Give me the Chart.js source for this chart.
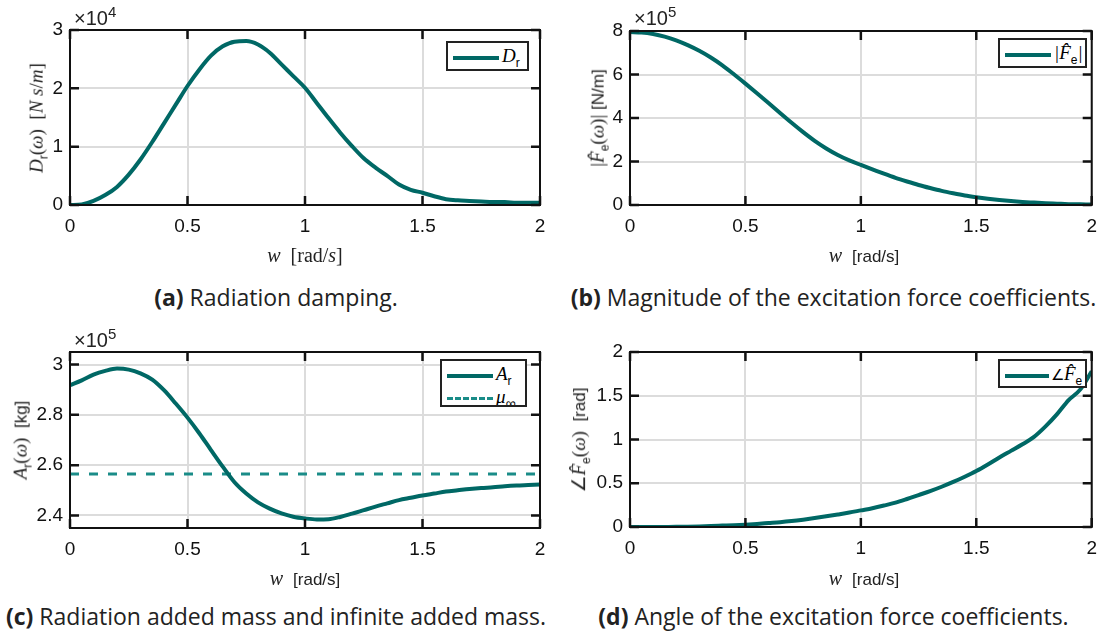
<!DOCTYPE html>
<html lang="en">
<head>
<meta charset="UTF-8">
<title>Hydrodynamic coefficients</title>
<script src="https://cdn.jsdelivr.net/npm/chart.js"></script>
<style>
    body { margin: 0; width: 1107px; height: 632px; background: #fff; position: relative; overflow: hidden; font-family: 'Liberation Sans', sans-serif; }
    .panel { position: absolute; }
    .txt { position: absolute; white-space: nowrap; color: #222; }
    .mult { font: 20px 'Liberation Sans', sans-serif; }
    .mult sup { font-size: 15px; vertical-align: 8px; }
    .ytitle { font: 19px 'Liberation Serif', serif; transform: translate(-50%, -50%) rotate(-90deg); }
    .xtitle { font: 20px 'Liberation Serif', serif; transform: translate(-50%, -50%); }
    .sans { font-family: 'Liberation Sans', sans-serif; font-size: 17px; }
    sub { font-size: 12px; font-family: 'Liberation Sans', sans-serif; font-style: normal; }
    .legend { position: absolute; border: 2px solid #222; background: #fff; font: italic 19px 'Liberation Serif', serif; box-sizing: border-box; padding: 0 3px 0 5px; white-space: nowrap; overflow: hidden; }
    .legend div { height: 26px; line-height: 26px; }
    .sample { display: inline-block; width: 46px; border-top: 4px solid #006865; vertical-align: middle; margin-right: 3px; }
    .sample.dash { border-top: 3px dashed #1a8c88; }
    .angle { font-style: normal; font-size: 15px; }
    .caption { position: absolute; font: 23px 'Open Sans', sans-serif; color: #222; text-align: center; transform: translateY(-50%); white-space: nowrap; }
</style>
</head>
<body>
<div class="panel" style="left:0;top:0;width:556px;height:265px"><canvas id="chartA"></canvas></div>
<div class="panel" style="left:560px;top:0;width:547px;height:265px"><canvas id="chartB"></canvas></div>
<div class="panel" style="left:0;top:320px;width:556px;height:268px"><canvas id="chartC"></canvas></div>
<div class="panel" style="left:560px;top:320px;width:547px;height:267px"><canvas id="chartD"></canvas></div>

<div class="txt mult" style="left:74px;top:3px">×10<sup>4</sup></div>
<div class="txt mult" style="left:634px;top:3px">×10<sup>5</sup></div>
<div class="txt mult" style="left:74px;top:325px">×10<sup>5</sup></div>

<div class="txt ytitle" style="left:38px;top:118px"><i>D</i><sub>r</sub>(<i>ω</i>)&nbsp; [<i>N s</i>/<i>m</i>]</div>
<div class="txt ytitle" style="left:599px;top:118px">|<i>F̂</i><sub>e</sub>(<i>ω</i>)| <span class="sans">[N/m]</span></div>
<div class="txt ytitle" style="left:22px;top:440px"><i>A</i><sub>r</sub>(<i>ω</i>)&nbsp; <span class="sans">[kg]</span></div>
<div class="txt ytitle" style="left:580px;top:440px">∠<i>F̂</i><sub>e</sub>(<i>ω</i>)&nbsp; <span class="sans">[rad]</span></div>

<div class="txt xtitle" style="left:305px;top:255px"><i>w</i>&nbsp; [rad/<i>s</i>]</div>
<div class="txt xtitle" style="left:864px;top:255px"><i>w</i>&nbsp; <span class="sans">[rad/s]</span></div>
<div class="txt xtitle" style="left:305px;top:578px"><i>w</i>&nbsp; <span class="sans">[rad/s]</span></div>
<div class="txt xtitle" style="left:864px;top:578px"><i>w</i>&nbsp; <span class="sans">[rad/s]</span></div>

<div class="legend" style="left:446px;top:41px;width:83px;height:30px"><div><span class="sample"></span><i>D</i><sub>r</sub></div></div>
<div class="legend" style="left:998px;top:38px;width:89px;height:30px"><div><span class="sample"></span>|<i>F̂</i><sub>e</sub>|</div></div>
<div class="legend" style="left:440px;top:359px;width:87px;height:48px;padding-top:1px"><div style="height:23px;line-height:23px"><span class="sample"></span><i>A</i><sub>r</sub></div><div style="height:23px;line-height:23px"><span class="sample dash"></span><i>μ</i><sub style="font-size:14px">∞</sub></div></div>
<div class="legend" style="left:998px;top:359px;width:89px;height:29px"><div><span class="sample" style="width:44px;margin-right:2px"></span><span class="angle">∠</span><i>F̂</i><sub>e</sub></div></div>

<div class="caption" style="left:0;width:552px;top:297px"><b>(a)</b> Radiation damping.</div>
<div class="caption" style="left:560px;width:547px;top:297px"><b>(b)</b> Magnitude of the excitation force coefficients.</div>
<div class="caption" style="left:0;width:552px;top:616px"><b>(c)</b> Radiation added mass and infinite added mass.</div>
<div class="caption" style="left:560px;width:547px;top:616px"><b>(d)</b> Angle of the excitation force coefficients.</div>

<script>
// frequency grid [rad/s]
const w = [0, 0.05, 0.1, 0.15, 0.2, 0.25, 0.3, 0.35, 0.4, 0.45, 0.5, 0.55, 0.6, 0.65, 0.7, 0.75, 0.8, 0.85, 0.9, 0.95,
           1.0, 1.05, 1.1, 1.15, 1.2, 1.25, 1.3, 1.35, 1.4, 1.45, 1.5, 1.55, 1.6, 1.65, 1.7, 1.75, 1.8, 1.85, 1.9, 1.95, 2.0];

// radiation damping, x1e4 Ns/m
const damping = [0.0, 0.01, 0.07, 0.17, 0.31, 0.52, 0.78, 1.08, 1.40, 1.72, 2.04, 2.32, 2.56, 2.72, 2.80, 2.81, 2.75, 2.61, 2.41, 2.21,
                 2.01, 1.75, 1.49, 1.24, 1.01, 0.80, 0.64, 0.50, 0.35, 0.26, 0.21, 0.15, 0.10, 0.08, 0.07, 0.06, 0.05, 0.05, 0.04, 0.04, 0.04];

// excitation force magnitude, x1e5 N/m
const excMag = [7.95, 7.93, 7.86, 7.74, 7.57, 7.35, 7.09, 6.78, 6.42, 6.01, 5.58, 5.14, 4.69, 4.23, 3.78, 3.35, 2.95, 2.60, 2.30, 2.05,
                1.84, 1.64, 1.44, 1.25, 1.08, 0.92, 0.78, 0.65, 0.54, 0.44, 0.36, 0.29, 0.23, 0.18, 0.14, 0.11, 0.08, 0.06, 0.04, 0.03, 0.02];

// radiation added mass, x1e5 kg
const addedMass = [2.918, 2.937, 2.960, 2.975, 2.984, 2.980, 2.965, 2.940, 2.898, 2.845, 2.789, 2.727, 2.660, 2.594, 2.532, 2.487, 2.452, 2.427, 2.408, 2.395,
                   2.388, 2.384, 2.385, 2.394, 2.407, 2.421, 2.435, 2.448, 2.461, 2.470, 2.479, 2.487, 2.495, 2.500, 2.505, 2.509, 2.512, 2.516, 2.519, 2.521, 2.523];
// infinite added mass, x1e5 kg
const muInf = 2.565;

// excitation force angle, rad
const excAngle = [0.0, 0.0, 0.0, 0.001, 0.002, 0.004, 0.007, 0.011, 0.016, 0.021, 0.027, 0.035, 0.045, 0.055, 0.068, 0.084, 0.102, 0.122, 0.143, 0.165,
                  0.19, 0.215, 0.245, 0.278, 0.32, 0.365, 0.41, 0.46, 0.515, 0.575, 0.64, 0.715, 0.795, 0.87, 0.945, 1.03, 1.15, 1.29, 1.45, 1.57, 1.78];

// tick labels
const xTicks = [0, 0.5, 1, 1.5, 2];
const yTicksA = [0, 1, 2, 3];
const yTicksB = [0, 2, 4, 6, 8];
const yTicksC = [2.4, 2.6, 2.8, 3];
const yTicksD = [0, 0.5, 1, 1.5, 2];

const teal = '#006865';
const tealDash = '#1a8c88';

// black box round the axes with inward tick marks on all four sides
const framePlugin = {
    id: 'frame',
    afterDraw(chart) {
        const { ctx, chartArea: a, scales } = chart;
        const len = 9;
        ctx.save();
        ctx.strokeStyle = '#111';
        ctx.lineWidth = 2;
        ctx.strokeRect(a.left, a.top, a.right - a.left, a.bottom - a.top);
        ctx.lineWidth = 2.5;
        ctx.beginPath();
        scales.x.ticks.forEach(t => {
            const px = scales.x.getPixelForValue(t.value);
            ctx.moveTo(px, a.bottom); ctx.lineTo(px, a.bottom - len);
            ctx.moveTo(px, a.top); ctx.lineTo(px, a.top + len);
        });
        scales.y.ticks.forEach(t => {
            const py = scales.y.getPixelForValue(t.value);
            ctx.moveTo(a.left, py); ctx.lineTo(a.left + len, py);
            ctx.moveTo(a.right, py); ctx.lineTo(a.right - len, py);
        });
        ctx.stroke();
        ctx.restore();
    }
};

function series(ys) {
    return ys.map((y, i) => ({ x: w[i], y: y }));
}

function makeChart(id, datasets, yMin, yMax, yTicks, padTop, padRight) {
    const tickFont = { family: 'Liberation Sans', size: 19 };
    return new Chart(document.getElementById(id), {
        type: 'line',
        data: { datasets: datasets },
        options: {
            responsive: true,
            maintainAspectRatio: false,
            animation: false,
            layout: { padding: { top: padTop, right: padRight, left: 0, bottom: 0 } },
            plugins: { legend: { display: false }, tooltip: { enabled: false } },
            elements: { point: { radius: 0 } },
            scales: {
                x: {
                    type: 'linear', min: 0, max: 2,
                    afterBuildTicks: s => { s.ticks = xTicks.map(v => ({ value: v })); },
                    afterFit: s => { s.height = 60; },
                    grid: { color: '#dcdcdc', lineWidth: 2, drawTicks: false },
                    border: { display: false },
                    ticks: { color: '#111', font: tickFont, padding: 10, maxRotation: 0, callback: v => String(v) }
                },
                y: {
                    type: 'linear', min: yMin, max: yMax,
                    afterBuildTicks: s => { s.ticks = yTicks.map(v => ({ value: v })); },
                    afterFit: s => { s.width = 70; },
                    grid: { color: '#dcdcdc', lineWidth: 2, drawTicks: false },
                    border: { display: false },
                    ticks: { color: '#111', font: tickFont, padding: 7, callback: v => String(v) }
                }
            }
        },
        plugins: [framePlugin]
    });
}

function solid(label, ys) {
    return { label: label, data: series(ys), borderColor: teal, borderWidth: 4, cubicInterpolationMode: 'monotone', fill: false };
}

makeChart('chartA', [solid('D_r', damping)], 0, 3, yTicksA, 30, 16);
makeChart('chartB', [solid('|F_e|', excMag)], 0, 8, yTicksB, 31, 9);
makeChart('chartC', [
    solid('A_r', addedMass),
    { label: 'mu_inf', data: series(w.map(() => muInf)), borderColor: tealDash, borderWidth: 3, borderDash: [9, 10], fill: false }
], 2.35, 3.05, yTicksC, 32, 16);
makeChart('chartD', [solid('angle F_e', excAngle)], 0, 2, yTicksD, 32, 9);
</script>
</body>
</html>
